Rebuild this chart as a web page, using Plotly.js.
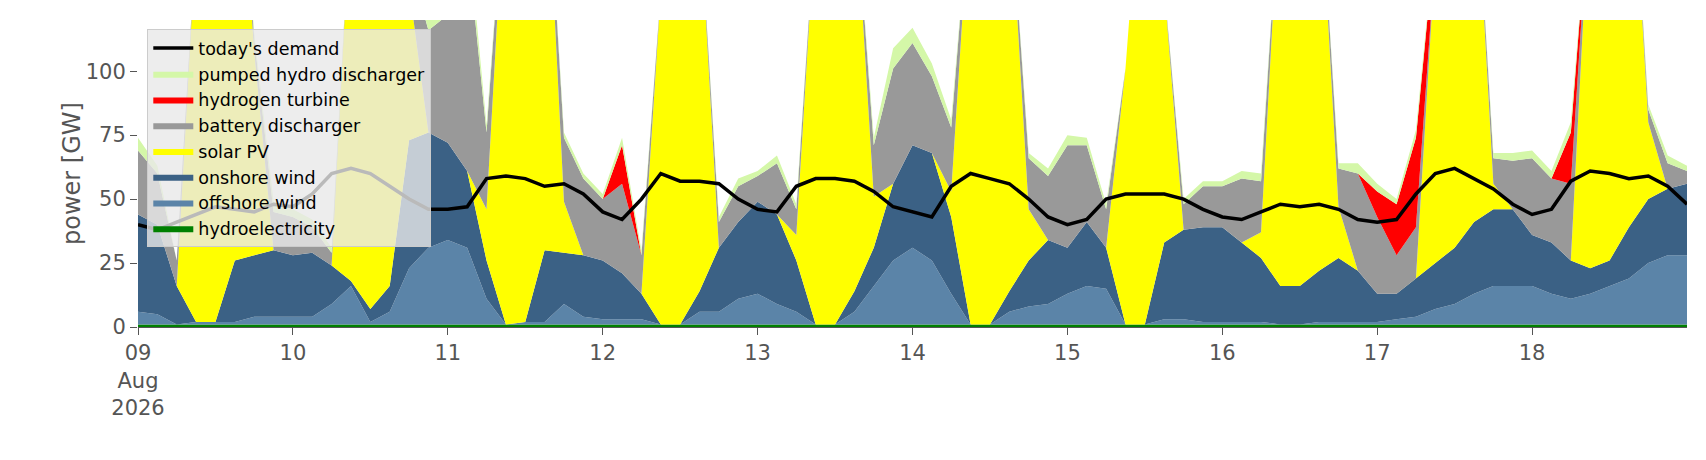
<!DOCTYPE html>
<html>
<head>
<meta charset="utf-8">
<script src="https://cdn.plot.ly/plotly-3.0.1.min.js"></script>
<style>body{margin:0;background:#fff}</style>
</head>
<body>
<div id="chart" style="width:1706px;height:460px"></div>
<script>
// 3-hourly values, 09 Aug 00:00 .. 19 Aug 00:00 (GW)
var hydro = [1,1,1,1,1,1,1,1, 1,1,1,1,1,1,1,1, 1,1,1,1,1,1,1,1, 1,1,1,1,1,1,1,1,
  1,1,1,1,1,1,1,1, 1,1,1,1,1,1,1,1, 1,1,1,1,1,1,1,1, 1,1,1,1,1,1,1,1,
  1,1,1,1,1,1,1,1, 1,1,1,1,1,1,1,1, 1];
var offshore = [5,4,0,1,1,1,3,3, 3,3,8,15,1,5,22,30, 33,30,10,0,1,1,8,3,
  2,2,2,0,0,5,5,10, 12,8,5,0,0,5,15,25, 30,25,12,0,0,5,7,8,
  12,15,14,0,0,2,2,1, 1,1,1,0,0,1,1,1, 1,2,3,6,8,12,15,15,
  15,12,10,12,15,18,24,27, 27];
var onshore = [38,35,15,0,0,24,24,26, 24,25,15,2,5,10,50,45, 38,30,15,0,0,28,20,24,
  23,18,10,0,0,8,25,30, 36,35,20,0,0,8,15,30, 40,42,30,0,0,8,18,25,
  18,25,16,0,0,30,35,37, 37,31,25,15,15,20,25,20, 11,10,15,18,22,28,30,30,
  20,20,15,10,10,20,25,26, 28];
var solar = [0,0,0,150,200,190,80,0, 0,0,0,150,200,180,60,0, 0,0,20,180,200,170,20,0,
  0,0,0,130,200,150,0,0, 0,0,10,160,200,160,20,0, 0,0,10,170,200,160,20,0,
  0,0,0,100,200,100,0,0, 0,0,10,160,200,160,20,0, 0,0,0,120,200,150,10,0,
  0,0,0,150,200,170,30,0, 0];
var battery = [25,20,10,0,0,0,5,15, 15,10,5,0,0,0,10,40, 50,90,30,0,0,0,25,30,
  24,35,15,0,0,0,10,14, 10,20,10,0,0,0,20,45, 40,30,25,0,0,0,20,25,
  40,30,15,0,0,0,10,16, 16,25,20,0,0,0,15,38, 30,15,20,0,0,0,10,19,
  30,25,30,0,0,0,5,10, 5];
var hydrogen = [0,0,0,0,0,0,0,0, 0,0,0,0,0,0,0,0, 0,0,0,0,0,0,0,0,
  0,15,0,0,0,0,0,0, 0,0,0,0,0,0,0,0, 0,0,0,0,0,0,0,0,
  0,0,0,0,0,0,0,0, 0,0,0,0,0,0,0,0, 10,20,35,0,0,0,0,0,
  0,0,20,0,0,0,0,0, 0];
var pumped = [5,3,0,0,0,0,2,4, 3,3,2,0,0,0,3,5, 5,8,3,0,0,0,2,2,
  2,3,2,0,0,0,2,3, 2,3,2,0,0,0,3,8, 6,5,3,0,0,0,2,3,
  4,3,2,0,0,0,2,2, 2,3,3,0,0,0,2,4, 3,2,3,0,0,0,2,3,
  3,3,4,0,0,0,2,3, 2];
var demand = [40,38,41,44,47,46,45,48, 47,52,60,62,60,55,50,46, 46,47,58,59,58,55,56,52,
  45,42,50,60,57,57,56,50, 46,45,55,58,58,57,53,47, 45,43,55,60,58,56,50,43,
  40,42,50,52,52,52,50,46, 43,42,45,48,47,48,46,42, 41,42,52,60,62,58,54,48,
  44,46,57,61,60,58,59,55, 48];
var tickVals = ['2026-08-09','2026-08-10','2026-08-11','2026-08-12','2026-08-13','2026-08-14','2026-08-15','2026-08-16','2026-08-17','2026-08-18'];
var tickText = ['09<br>Aug<br>2026','10','11','12','13','14','15','16','17','18'];

var start = Date.UTC(2026, 7, 9);
var x = demand.map(function(_, i) {
  return new Date(start + i * 3 * 3600 * 1000).toISOString().slice(0, 16).replace('T', ' ');
});

function area(name, y, color) {
  return {x: x, y: y, name: name, type: 'scatter', mode: 'lines', stackgroup: 'one',
    line: {width: 0}, fillcolor: color};
}
var data = [
  area('hydroelectricity', hydro, '#008000'),
  area('offshore wind', offshore, '#5b84a8'),
  area('onshore wind', onshore, '#3b6185'),
  area('solar PV', solar, '#ffff00'),
  area('battery discharger', battery, '#999999'),
  area('hydrogen turbine', hydrogen, '#ff0000'),
  area('pumped hydro discharger', pumped, '#d4f7a8'),
  {x: x, y: demand, name: "today's demand", type: 'scatter', mode: 'lines', line: {color: '#000', width: 3.5}}
];

var layout = {
  width: 1706, height: 460,
  margin: {l: 138, r: 19, t: 20, b: 133},
  paper_bgcolor: '#fff', plot_bgcolor: '#fff',
  font: {family: 'DejaVu Sans', color: '#555'},
  showlegend: true,
  legend: {traceorder: 'reversed', x: 0.006, y: 0.97, xanchor: 'left', yanchor: 'top',
    bgcolor: 'rgba(232,232,232,0.8)', bordercolor: '#ccc', borderwidth: 1,
    font: {size: 17.5, color: '#000'}, tracegroupgap: 0, itemwidth: 40},
  xaxis: {type: 'date', range: ['2026-08-09', '2026-08-19'], tickvals: tickVals, ticktext: tickText,
    showgrid: false, zeroline: false, ticks: 'outside', ticklen: 7, tickcolor: '#555',
    showline: true, linecolor: '#555', tickfont: {size: 21}},
  yaxis: {range: [0, 120], tickvals: [0, 25, 50, 75, 100], showgrid: false, zeroline: false,
    ticks: 'outside', ticklen: 7, tickcolor: '#555', showline: false,
    tickfont: {size: 21}, title: {text: 'power [GW]', font: {size: 24, color: '#555'}}}
};
Plotly.newPlot('chart', data, layout, {displayModeBar: false});
</script>
</body>
</html>
